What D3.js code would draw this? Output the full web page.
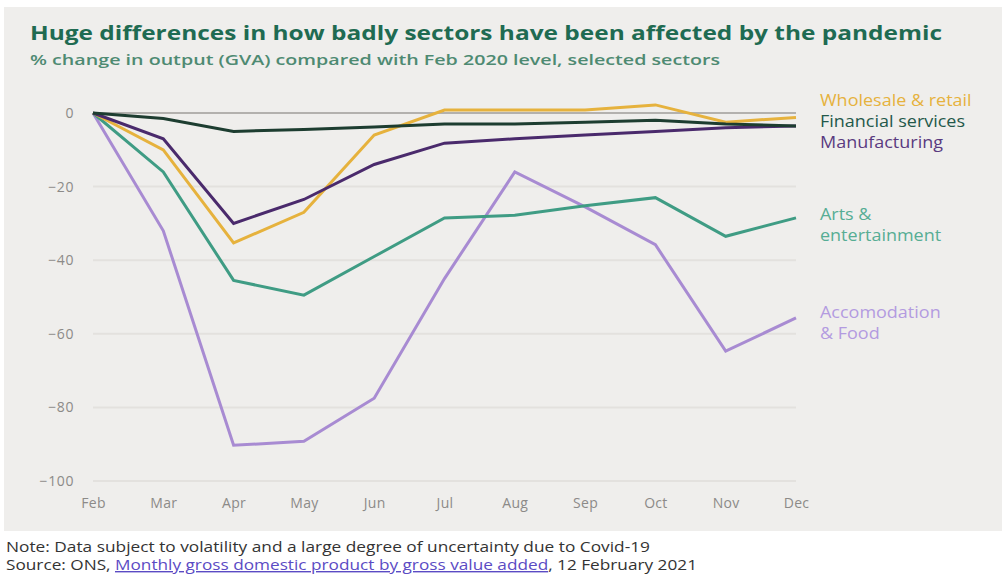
<!DOCTYPE html>
<html>
<head>
<meta charset="utf-8">
<script src="https://cdn.jsdelivr.net/npm/d3@7"></script>
<style>
  html, body { margin: 0; padding: 0; background: #ffffff; }
  svg { display: block; }
</style>
</head>
<body>
<svg id="chart" width="1002" height="575"></svg>
<script>
// Months since Feb 2020
const months = ["Feb", "Mar", "Apr", "May", "Jun", "Jul", "Aug", "Sep", "Oct", "Nov", "Dec"];
const yTicks = [0, -20, -40, -60, -80, -100];

// % change in GVA vs Feb 2020, by sector
const wholesale     = [0, -10, -35.3, -27, -6, 0.8, 0.8, 0.8, 2.2, -2.5, -1.2];
const financial     = [0, -1.5, -5, -4.5, -3.8, -3, -3, -2.5, -2, -3, -3.5];
const manufacturing = [0, -7, -30, -23.5, -14, -8.2, -7, -6, -5, -4, -3.5];
const arts          = [0, -16, -45.5, -49.5, -39, -28.5, -27.8, -25.2, -23, -33.5, -28.5];
const accommodation = [0, -32, -90.3, -89.2, -77.5, -45, -16, -25.5, -35.8, -64.7, -55.7];

const seriesNames  = ["Accomodation & Food", "Arts & entertainment", "Wholesale & retail", "Manufacturing", "Financial services"];
const seriesValues = [accommodation, arts, wholesale, manufacturing, financial];
const seriesColors = ["#a88bd2", "#3f9c84", "#e6b23d", "#4a2a6c", "#1d3d30"];

// Legend lines (text, colour)
const legendLines = [
  ["Wholesale & retail", "#e6b23d"],
  ["Financial services", "#23584a"],
  ["Manufacturing", "#5a3a80"],
  ["Arts &", "#56ad94"],
  ["entertainment", "#56ad94"],
  ["Accomodation", "#b39be0"],
  ["& Food", "#b39be0"]
];
const legendY = [101, 122, 143, 215, 236, 313, 334];

const svg = d3.select("#chart");

// stretch a text run horizontally to a given width (wide typeface look)
function stretchTo(sel, width) {
  sel.attr("textLength", width).attr("lengthAdjust", "spacingAndGlyphs");
}
function stretchBy(sel, k) {
  sel.each(function () {
    const w = this.getComputedTextLength();
    d3.select(this).attr("textLength", (w * k).toFixed(2)).attr("lengthAdjust", "spacingAndGlyphs");
  });
}

// background panel
svg.append("rect")
  .attr("x", 4).attr("y", 7).attr("width", 998).attr("height", 524)
  .attr("fill", "#efeeec");

// title and subtitle
const title = svg.append("text")
  .attr("x", 30).attr("y", 40)
  .attr("font-family", "'Open Sans', sans-serif")
  .attr("font-weight", 700)
  .attr("font-size", 19.5)
  .attr("fill", "#1f6b52")
  .text("Huge differences in how badly sectors have been affected by the pandemic");
stretchTo(title, 912);

const subtitle = svg.append("text")
  .attr("x", 30).attr("y", 65)
  .attr("font-family", "'Open Sans', sans-serif")
  .attr("font-weight", 600)
  .attr("font-size", 14.5)
  .attr("fill", "#4e8a72")
  .text("% change in output (GVA) compared with Feb 2020 level, selected sectors");
stretchTo(subtitle, 690);

const x = d3.scalePoint().domain(months).range([93, 796]);
const y = d3.scaleLinear().domain([-100, 0]).range([481, 113]);

// gridlines
const grid = svg.append("g");
grid.selectAll("line")
  .data(yTicks)
  .join("line")
  .attr("x1", 93).attr("x2", 796)
  .attr("y1", d => y(d)).attr("y2", d => y(d))
  .attr("stroke", d => d === 0 ? "#b3b1ae" : "#e3e1de")
  .attr("stroke-width", 2);

// y axis labels
const yAxis = svg.append("g")
  .attr("transform", "translate(74,0)")
  .call(d3.axisLeft(y).tickValues(yTicks).tickSize(0).tickPadding(0).tickFormat(d3.format("d")));
yAxis.select(".domain").remove();
yAxis.selectAll("text")
  .attr("font-family", "'Open Sans', sans-serif")
  .attr("font-size", 14)
  .attr("letter-spacing", 0.6)
  .attr("fill", "#8c8a88")
  .attr("dy", "0.32em");

// x axis labels
const xAxis = svg.append("g")
  .attr("transform", "translate(0,498)")
  .call(d3.axisBottom(x).tickSize(0).tickPadding(0));
xAxis.select(".domain").remove();
xAxis.selectAll("text")
  .attr("font-family", "'Open Sans', sans-serif")
  .attr("font-size", 14)
  .attr("letter-spacing", 0.3)
  .attr("fill", "#8c8a88");

// sector lines
const line = d3.line()
  .x((d, i) => x(months[i]))
  .y(d => y(d));

svg.append("g")
  .selectAll("path")
  .data(seriesValues)
  .join("path")
  .attr("d", d => line(d))
  .attr("fill", "none")
  .attr("stroke", (d, i) => seriesColors[i])
  .attr("stroke-width", 3)
  .attr("stroke-linejoin", "miter");

// legend labels
const legend = svg.append("g")
  .selectAll("text")
  .data(legendLines)
  .join("text")
  .attr("x", 820)
  .attr("y", (d, i) => legendY[i])
  .attr("dy", "0.35em")
  .attr("font-family", "'Open Sans', sans-serif")
  .attr("font-size", 15.5)
  .attr("font-weight", 500)
  .attr("fill", d => d[1])
  .text(d => d[0]);
stretchBy(legend, 1.16);

// footnote
const note = svg.append("g")
  .attr("font-family", "'Open Sans', sans-serif")
  .attr("font-size", 14)
  .attr("fill", "#333333");

const note1 = note.append("text")
  .attr("x", 6).attr("y", 552)
  .text("Note: Data subject to volatility and a large degree of uncertainty due to Covid-19");
stretchTo(note1, 644);

const src = note.append("text").attr("x", 6).attr("y", 570);
src.append("tspan").text("Source: ONS, ");
src.append("tspan")
  .attr("fill", "#5b4bc4")
  .attr("text-decoration", "underline")
  .text("Monthly gross domestic product by gross value added");
src.append("tspan").text(", 12 February 2021");
stretchTo(src, 691);
</script>
</body>
</html>
